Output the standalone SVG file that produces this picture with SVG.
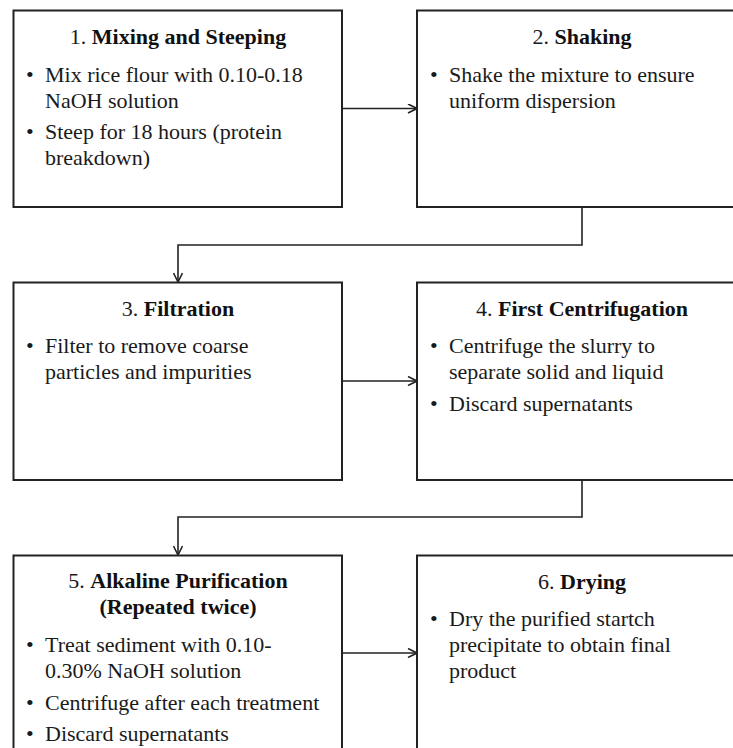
<svg xmlns="http://www.w3.org/2000/svg" width="733" height="748" viewBox="0 0 733 748">
  <style>
    .box { fill: #ffffff; stroke: #222222; stroke-width: 2; }
    .t { font-family: "Liberation Serif", "Times New Roman", serif; font-size: 22px; fill: #1a1a1a; }
    .c { text-anchor: middle; }
    .b { font-weight: bold; fill: #111111; }
    .edge { fill: none; stroke: #222222; stroke-width: 1.6; }
  </style>
  <defs>
    <marker id="arr" viewBox="0 0 10 10" refX="10" refY="5" markerWidth="10" markerHeight="10" markerUnits="userSpaceOnUse" orient="auto">
      <polyline points="1,0.5 10,5 1,9.5" fill="none" stroke="#222222" stroke-width="1.6"/>
    </marker>
  </defs>
  <rect x="0" y="0" width="733" height="748" fill="#ffffff"/>

  <g id="connectors">
    <line class="edge" x1="342" y1="108.5" x2="417" y2="108.5" marker-end="url(#arr)"/>
    <polyline class="edge" points="582,207 582,245 178,245 178,282" marker-end="url(#arr)"/>
    <line class="edge" x1="342" y1="381" x2="417" y2="381" marker-end="url(#arr)"/>
    <polyline class="edge" points="582,480 582,517 178,517 178,555" marker-end="url(#arr)"/>
    <line class="edge" x1="342" y1="653" x2="417" y2="653" marker-end="url(#arr)"/>
  </g>

  <g id="node1">
    <rect class="box" x="13.5" y="10.5" width="328.5" height="196.5"/>
    <text class="t c" x="178" y="44">1. <tspan class="b">Mixing and Steeping</tspan></text>
    <text class="t" x="26" y="82">•</text>
    <text class="t" x="45" y="82">Mix rice flour with 0.10-0.18</text>
    <text class="t" x="45" y="108">NaOH solution</text>
    <text class="t" x="26" y="139">•</text>
    <text class="t" x="45" y="139">Steep for 18 hours (protein</text>
    <text class="t" x="45" y="165">breakdown)</text>
  </g>

  <g id="node2">
    <rect class="box" x="417" y="10.5" width="330" height="196.5"/>
    <text class="t c" x="582" y="44">2. <tspan class="b">Shaking</tspan></text>
    <text class="t" x="430" y="82">•</text>
    <text class="t" x="449" y="82">Shake the mixture to ensure</text>
    <text class="t" x="449" y="108">uniform dispersion</text>
  </g>

  <g id="node3">
    <rect class="box" x="13.5" y="282.5" width="328.5" height="197.5"/>
    <text class="t c" x="178" y="316">3. <tspan class="b">Filtration</tspan></text>
    <text class="t" x="26" y="353">•</text>
    <text class="t" x="45" y="353">Filter to remove coarse</text>
    <text class="t" x="45" y="379">particles and impurities</text>
  </g>

  <g id="node4">
    <rect class="box" x="417" y="282.5" width="330" height="197.5"/>
    <text class="t c" x="582" y="316">4. <tspan class="b">First Centrifugation</tspan></text>
    <text class="t" x="430" y="353">•</text>
    <text class="t" x="449" y="353">Centrifuge the slurry to</text>
    <text class="t" x="449" y="379">separate solid and liquid</text>
    <text class="t" x="430" y="411">•</text>
    <text class="t" x="449" y="411">Discard supernatants</text>
  </g>

  <g id="node5">
    <rect class="box" x="13.5" y="555.5" width="328.5" height="210"/>
    <text class="t c" x="178" y="588">5. <tspan class="b">Alkaline Purification</tspan></text>
    <text class="t c b" x="178" y="614">(Repeated twice)</text>
    <text class="t" x="26" y="652">•</text>
    <text class="t" x="45" y="652">Treat sediment with 0.10-</text>
    <text class="t" x="45" y="678">0.30% NaOH solution</text>
    <text class="t" x="26" y="710">•</text>
    <text class="t" x="45" y="710">Centrifuge after each treatment</text>
    <text class="t" x="26" y="741">•</text>
    <text class="t" x="45" y="741">Discard supernatants</text>
  </g>

  <g id="node6">
    <rect class="box" x="417" y="555.5" width="330" height="210"/>
    <text class="t c" x="582" y="589">6. <tspan class="b">Drying</tspan></text>
    <text class="t" x="430" y="626">•</text>
    <text class="t" x="449" y="626">Dry the purified startch</text>
    <text class="t" x="449" y="652">precipitate to obtain final</text>
    <text class="t" x="449" y="678">product</text>
  </g>
</svg>
